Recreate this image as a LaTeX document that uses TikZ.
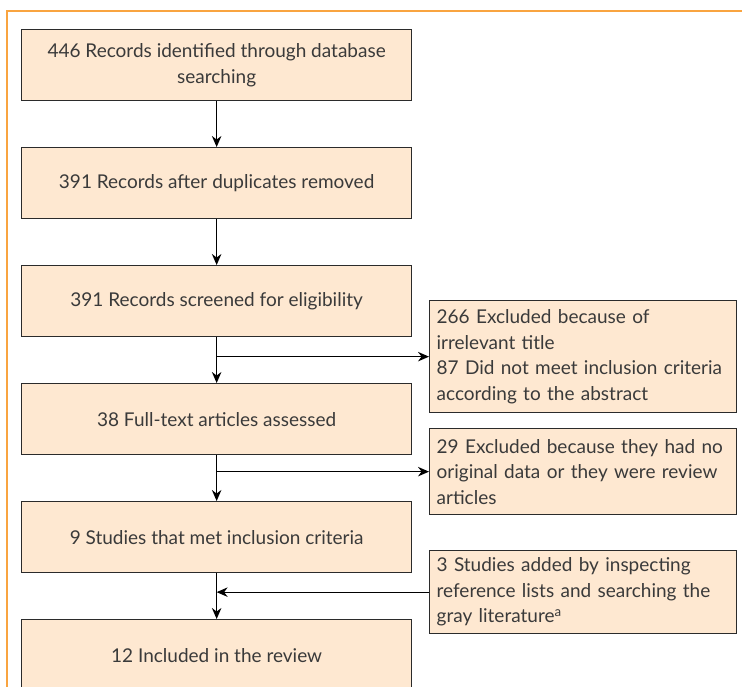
\documentclass[tikz,border=0pt]{standalone}
\usepackage{fontspec}
\setmainfont{Lato}
\usetikzlibrary{arrows.meta}
\definecolor{boxfill}{HTML}{FEE8D1}
\definecolor{frameorange}{HTML}{F9A440}
\definecolor{txt}{HTML}{3A3A3A}
\definecolor{edgecol}{HTML}{2B2B2B}
\begin{document}
\begin{tikzpicture}[x=1pt,y=-1pt,
  boxfont/.style={font=\fontsize{19}{25.5}\selectfont},
  mainbox/.style={boxfont, draw=edgecol, line width=1.3pt, fill=boxfill, text=txt,
    minimum width=390pt, minimum height=71pt, inner sep=0pt, align=center, anchor=north west},
  sidebox/.style={boxfont, draw=edgecol, line width=1.3pt, fill=boxfill, text=txt,
    text width=293pt, inner xsep=7pt, inner ysep=0pt, align=left, anchor=north west},
  conn/.style={line width=1.1pt, draw=black, -{Stealth[length=11pt,width=9.5pt]}},
  link/.style={line width=1.1pt, draw=black}]
\useasboundingbox (0,0) rectangle (742,687);
\clip (0,0) rectangle (742,687);
\fill[white] (0,0) rectangle (742,687);
\draw[frameorange, line width=2.4pt] (7,700) -- (7,11) -- (760,11);

\node[mainbox] (b1) at (21,29) {446 Records identified through database\\searching};
\node[mainbox] (b2) at (21,147) {391 Records after duplicates removed};
\node[mainbox] (b3) at (21,265) {391 Records screened for eligibility};
\node[mainbox] (b4) at (21,383) {38 Full-text articles assessed};
\node[mainbox] (b5) at (21,501) {9 Studies that met inclusion criteria};
\node[mainbox] (b6) at (21,619) {12 Included in the review};

\node[sidebox, minimum height=112pt] (s1) at (429,300) {266 Excluded because of\\irrelevant title\\87 Did not meet inclusion criteria\\according to the abstract};
\node[sidebox, minimum height=86pt] (s2) at (429,428) {29 Excluded because they had no\\original data or they were review\\articles};
\node[sidebox, minimum height=83pt] (s3) at (429,550) {3 Studies added by inspecting\\reference lists and searching the\\gray literature\textsuperscript{a}};

\coordinate (j1) at (b3.south |- s1.west);
\coordinate (j2) at (b4.south |- s2.west);
\coordinate (j3) at (b5.south |- s3.west);

\draw[conn] (b1.south) -- (b2.north);
\draw[conn] (b2.south) -- (b3.north);
\draw[conn] (b3.south) -- (b4.north);
\draw[conn] (j1) -- (s1.west);
\draw[conn] (b4.south) -- (b5.north);
\draw[conn] (j2) -- (s2.west);
\draw[conn] (b5.south) -- (b6.north);
\draw[conn] (s3.west) -- (j3);
\end{tikzpicture}
\end{document}
